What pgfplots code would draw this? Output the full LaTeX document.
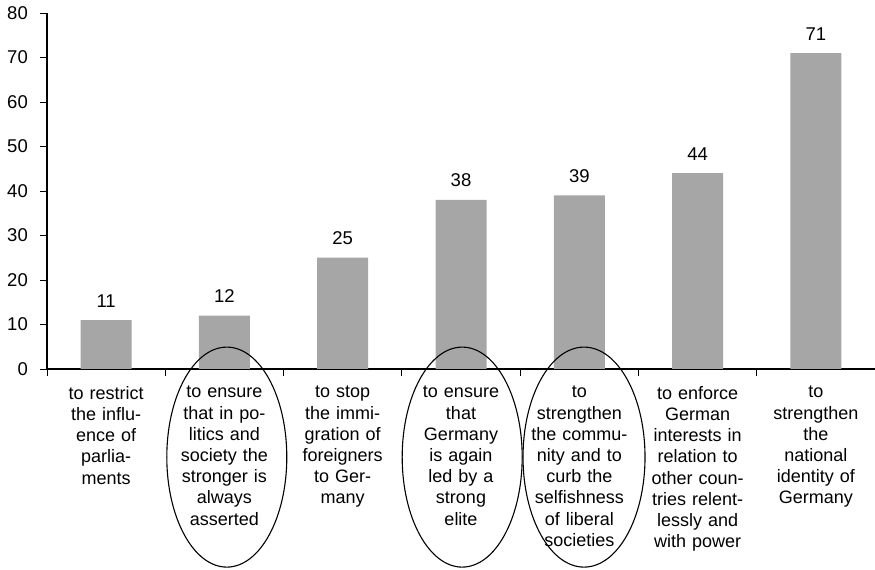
\documentclass[border=0pt]{standalone}
\usepackage{pgfplots}
\pgfplotsset{compat=1.18}
\usepackage{fontspec}
\setmainfont{Liberation Sans}
\definecolor{bargray}{HTML}{A6A6A6}
\begin{document}
\begin{tikzpicture}
\begin{axis}[
  scale only axis, width=828pt, height=356pt,
  xmin=-0.5, xmax=6.5, ymin=0, ymax=80,
  axis x line*=bottom, axis y line*=left,
  axis line style={line width=1.6pt, -},
  tick align=outside,
  /pgf/number format/assume math mode=true,
  font=\fontsize{18}{21.2}\selectfont,
  ytick={0,10,...,80},
  major tick length=7pt,
  tick style={black, line width=0.8pt},
  yticklabel style={inner sep=0pt, xshift=-12pt, font=\fontsize{18.5}{21.2}\selectfont},
  xtick={-0.5,0.5,...,6.5},
  xticklabels={},
  extra x ticks={0,1,2,3,4,5,6},
  extra x tick style={tick style={draw=none}},
  extra x tick labels={
    {to restrict\\the influ-\\ence of\\parlia-\\ments},
    {to ensure\\that in po-\\litics and\\society the\\stronger is\\always\\asserted},
    {to stop\\the immi-\\gration of\\foreigners\\to Ger-\\many},
    {to ensure\\that\\Germany\\is again\\led by a\\strong\\elite},
    {to\\strengthen\\the commu-\\nity and to\\curb the\\selfishness\\of liberal\\societies},
    {to enforce\\German\\interests in\\relation to\\other coun-\\tries relent-\\lessly and\\with power},
    {to\\strengthen\\the\\national\\identity of\\Germany}},
  x tick label style={text width=118pt, align=center, anchor=north, inner sep=0pt,
    yshift=-10pt, font=\fontsize{18}{21.2}\selectfont},
  ybar, bar width=51pt,
  nodes near coords,
  nodes near coords style={anchor=base, yshift=13pt, inner sep=0pt, font=\fontsize{18.5}{21.2}\selectfont},
  clip=false,
]
\addplot[fill=bargray, draw=none] coordinates {(0,11) (1,12) (2,25) (3,38) (4,39) (5,44) (6,71)};
\draw[line width=1.1pt] (axis cs:1.02,-19.8) ellipse [x radius=60pt, y radius=110pt];
\draw[line width=1.1pt] (axis cs:3.01,-19.8) ellipse [x radius=60pt, y radius=110pt];
\draw[line width=1.1pt] (axis cs:4.04,-19.8) ellipse [x radius=61pt, y radius=110pt];
\coordinate (bl) at (rel axis cs:0,0);
\coordinate (tr) at (rel axis cs:1,1);
\end{axis}
\pgfresetboundingbox
\path[use as bounding box] ([xshift=-47pt,yshift=-201pt]bl) rectangle ([yshift=13pt]tr);
\end{tikzpicture}
\end{document}
